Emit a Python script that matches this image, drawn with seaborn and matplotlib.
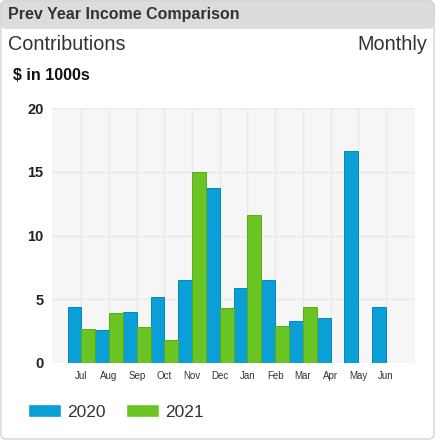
import numpy as np
import pandas as pd
import matplotlib
matplotlib.use("Agg")
import matplotlib.pyplot as plt
import seaborn as sns
from matplotlib.patches import FancyBboxPatch, Rectangle

# chart data
months = ["Jul", "Aug", "Sep", "Oct", "Nov", "Dec", "Jan", "Feb", "Mar", "Apr", "May", "Jun"]
income_2020 = [4.4, 2.6, 4.0, 5.2, 6.5, 13.7, 5.9, 6.5, 3.3, 3.5, 16.6, 4.4]
income_2021 = [2.7, 3.9, 2.8, 1.8, 15.0, 4.3, 11.6, 2.9, 4.4, np.nan, np.nan, np.nan]
years = ["2020", "2021"]
y_ticks = [0, 5, 10, 15, 20]

df = pd.DataFrame({
    "month": months * 2,
    "year": [years[0]] * len(months) + [years[1]] * len(months),
    "value": income_2020 + income_2021,
})

sns.set_style("white")
plt.rcParams["font.family"] = ["Liberation Sans", "DejaVu Sans"]

W, H = 436, 441
fig = plt.figure(figsize=(W / 100, H / 100), dpi=100)

def fx(px):
    return px / W

def fy(py):
    return 1 - py / H

# card frame + header band
fig.patches.append(FancyBboxPatch((fx(1), fy(439)), fx(433), fy(1) - fy(439),
                                  boxstyle="round,pad=0,rounding_size=0.012",
                                  transform=fig.transFigure, facecolor="white",
                                  edgecolor="#d4d4d4", linewidth=1.0, zorder=-2))
fig.patches.append(FancyBboxPatch((fx(1), fy(28)), fx(433), fy(1) - fy(28),
                                  boxstyle="round,pad=0,rounding_size=0.012",
                                  transform=fig.transFigure, facecolor="#dcdcdc",
                                  edgecolor="#d4d4d4", linewidth=1.0, zorder=-1))
fig.patches.append(Rectangle((fx(1.5), fy(28)), fx(432), fy(18) - fy(28),
                             transform=fig.transFigure, facecolor="#dcdcdc",
                             edgecolor="none", zorder=-1))

fig.text(fx(8), fy(14), "Prev Year Income Comparison", fontsize=11.5, fontweight="bold",
         color="#333333", va="center", ha="left", zorder=3)
fig.text(fx(8), fy(45), "Contributions", fontsize=14.3, color="#333333",
         va="center", ha="left")
fig.text(fx(427), fy(45), "Monthly", fontsize=14.3, color="#333333",
         va="center", ha="right")
fig.text(fx(13), fy(75), "$ in 1000s", fontsize=11.5, fontweight="bold", color="#111111",
         va="center", ha="left")

ax = fig.add_axes([fx(52), fy(363), fx(415 - 52), fy(108) - fy(363)])
ax.set_zorder(2)
ax.set_facecolor("#f6f6f6")

palette = {"2020": "#0a9fd6", "2021": "#69c424"}
edges = {"2020": "#0787b8", "2021": "#58ac1c"}

sns.barplot(data=df, x="month", y="value", hue="year", order=months, hue_order=years,
            palette=palette, width=1.0, ax=ax, zorder=3, saturation=1)

for cont, yr in zip(ax.containers, years):
    for bar in cont:
        bar.set_edgecolor(edges[yr])
        bar.set_linewidth(0.7)

ax.set_ylim(0, 20)
ax.set_xlim(-1.06, len(months) - 1 + 1.05)
ax.set_yticks(y_ticks)
ax.set_yticklabels([str(t) for t in y_ticks], fontsize=10.5, fontweight="bold", color="#222222")
ax.tick_params(axis="y", length=0, pad=6)
ax.tick_params(axis="x", length=0, pad=6, labelsize=7, labelcolor="#333333")
ax.grid(True, color="#e9e9e9", linewidth=1.0, zorder=0)
ax.set_axisbelow(True)
ax.set_xlabel("")
ax.set_ylabel("")
for s in ax.spines.values():
    s.set_visible(False)

handles, labels = ax.get_legend_handles_labels()
ax.get_legend().remove()
fig.legend(handles, labels, loc="center left", bbox_to_anchor=(fx(12), fy(412)),
           ncol=2, frameon=False, fontsize=12.5, handlelength=1.9, handleheight=0.8,
           handletextpad=0.35, columnspacing=1.2, labelcolor="#333333")

fig.savefig("out.png", dpi=100)
